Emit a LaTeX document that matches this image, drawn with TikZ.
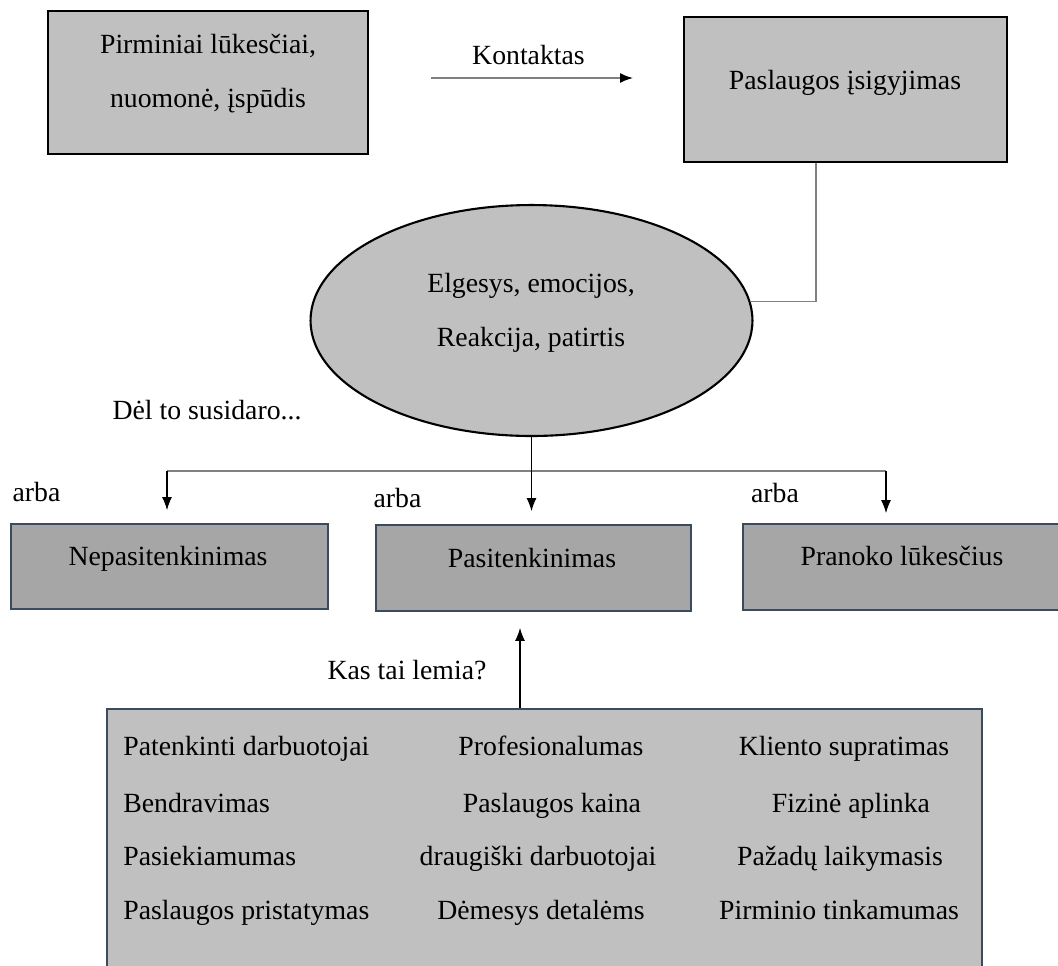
\documentclass[tikz,border=0pt]{standalone}
\usepackage{fontspec}
\setmainfont{Liberation Serif}
\usepackage{tikz}
\usetikzlibrary{shapes.geometric,arrows.meta}
\definecolor{lightfill}{HTML}{C0C0C0}
\definecolor{darkfill}{HTML}{A6A6A6}
\definecolor{slate}{HTML}{3A4B5E}
\definecolor{linkgray}{HTML}{808080}
\tikzstyle{topbox}=[rectangle,draw=black,line width=1.4pt,fill=lightfill,inner sep=0pt]
\tikzstyle{ellbox}=[ellipse,draw=black,line width=1.2pt,fill=lightfill,inner sep=0pt]
\tikzstyle{outbox}=[rectangle,draw=slate,line width=1.1pt,fill=darkfill,inner sep=0pt,minimum width=6.3cm,minimum height=1.72cm]
\tikzstyle{factbox}=[rectangle,draw=slate,line width=1.1pt,fill=lightfill,inner sep=0pt]
\tikzstyle{txt}=[inner sep=0pt,text height=0.95em,text depth=0.15em]
\tikzstyle{txtml}=[align=center,inner sep=0pt]
\tikzstyle{link}=[draw=linkgray,line width=0.7pt]
\tikzstyle{child}=[-{Latex[length=2.6mm,width=2mm]},black,line width=0.6pt]

\begin{document}
\begin{tikzpicture}[x=0.02cm,y=-0.02cm,every node/.style={font=\fontsize{15.8pt}{30.7pt}\selectfont}]
  \useasboundingbox (0,0) rectangle (1058,965);

  % top row
  \node[topbox,minimum width=6.4cm,minimum height=2.86cm] (P) at (208,82.5) {};
  \node[txtml] (Ptext) at (208,74) {Pirminiai lūkesčiai,\\nuomonė, įspūdis};
  \node[topbox,minimum width=6.46cm,minimum height=2.9cm] (S) at (845.5,89.5) {};
  \node[txt] (Stext) at (845,82) {Paslaugos įsigyjimas};
  \node[txt] (kont) at (528.5,57) {Kontaktas};
  \coordinate (k1) at (431,78);
  \coordinate (k2) at (633,78);
  \draw[draw=linkgray,line width=0.9pt,-{Latex[length=2.6mm,width=2mm,black]}] (k1)--(k2);

  % ellipse
  \node[ellbox,minimum width=8.84cm,minimum height=4.62cm] (E) at (531.5,320.5) {};
  \node[txtml] (Etext) at (531,312.5) {Elgesys, emocijos,\\Reakcija, patirtis};
  \coordinate (turn) at (816,300);
  \draw[link] (S.south -| turn) |- (E.5);
  \node[txt] (del) at (207,412) {Dėl to susidaro...};

  % outcomes
  \node[outbox,minimum width=6.34cm,minimum height=1.7cm] (L) at (169.5,566.5) {};
  \node[txt] (Ltext) at (168,558) {Nepasitenkinimas};
  \node[outbox] (M) at (533.5,568) {};
  \node[txt] (Mtext) at (532,560) {Pasitenkinimas};
  \node[outbox,minimum width=6.36cm] (R) at (902,567) {};
  \node[txt] (Rtext) at (902,558) {Pranoko lūkesčius};
  \node[txt] (arbaL) at (36.5,494) {arba};
  \node[txt] (arbaM) at (397.5,500) {arba};
  \node[txt] (arbaR) at (775,495) {arba};

  \coordinate (hl) at (167,471);
  \coordinate (hr) at (886,471);
  \draw[link] (hl)--(hr);
  \draw[child,shorten >=0.26cm] (hl)--(hl |- L.north);
  \draw[child,shorten >=0.2cm] (hr)--(hr |- R.north);
  \draw[child,shorten >=0.26cm] (E.south)--(E.south |- M.north);

  % factors
  \node[factbox,minimum width=17.5cm,minimum height=5.32cm] (T) at (544.5,842) {};
  \coordinate (q) at (520,708);
  \draw[child,shorten >=0.32cm] (T.north -| q)--(M.south -| q);
  \node[txt] (kas) at (407,672) {Kas tai lemia?};

  \node[txt,anchor=west] (f11) at (123,748) {Patenkinti darbuotojai};
  \node[txt,anchor=west] (f21) at (123,805) {Bendravimas};
  \node[txt,anchor=west] (f31) at (123,858) {Pasiekiamumas};
  \node[txt,anchor=west] (f41) at (123,912) {Paslaugos pristatymas};
  \node[txt] (f12) at (551,748) {Profesionalumas};
  \node[txt] (f22) at (552,805) {Paslaugos kaina};
  \node[txt] (f32) at (538,858) {draugiški darbuotojai};
  \node[txt] (f42) at (541,912) {Dėmesys detalėms};
  \node[txt] (f13) at (844,748) {Kliento supratimas};
  \node[txt] (f23) at (851,805) {Fizinė aplinka};
  \node[txt] (f33) at (840,858) {Pažadų laikymasis};
  \node[txt] (f43) at (839,912) {Pirminio tinkamumas};
\end{tikzpicture}
\end{document}
